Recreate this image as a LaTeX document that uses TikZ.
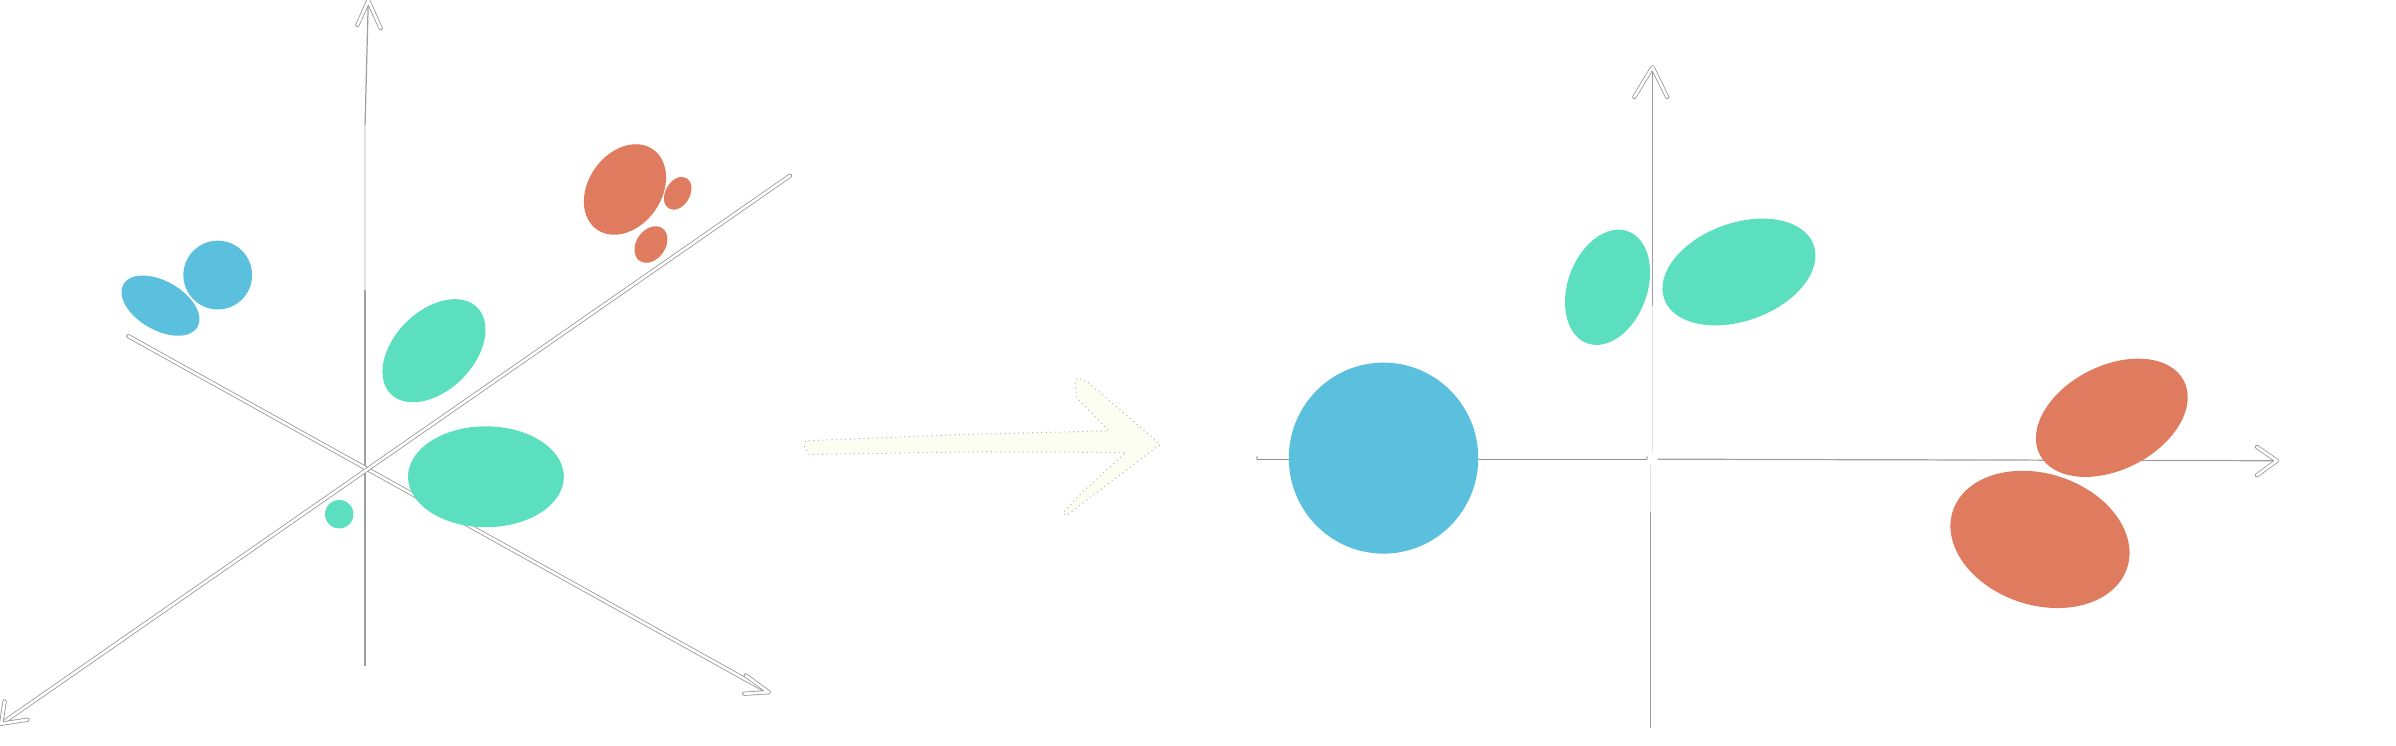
\documentclass[tikz,border=0pt]{standalone}
\usepackage{tikz}
\definecolor{sky}{HTML}{5BC0DE}
\definecolor{mint}{HTML}{5CDFBE}
\definecolor{coral}{HTML}{DF7B5E}
\definecolor{cream}{HTML}{FDFEF2}

\begin{document}
\begin{tikzpicture}[x=0.0153cm,y=-0.0153cm,
		axis/.style={draw=gray!75,line width=0.35pt},
		faint/.style={draw=gray!22,line width=0.35pt},
		hollow/.style={draw=gray!85,line width=0.22pt,double=white,double distance=0.75pt,line cap=round,line join=round},
		sketch/.style={fill=cream,draw=gray!55,line width=0.3pt,densely dotted},
	]
	\useasboundingbox (0,0) rectangle (1568,488);
	% left picture: three axes
	\coordinate (lTip) at (241,0.5);
	\coordinate (lUp) at (238.9,82);
	\coordinate (lMid) at (238.9,190);
	\coordinate (lBot) at (238.9,436);
	\draw[axis] (lTip) -- (lUp);
	\draw[faint] (lUp) -- (lMid);
	\draw[axis] (lMid) -- (lBot);
	\draw[hollow] (233.9,16.4) -- (lTip) -- (249.1,18.5);

	\coordinate (aStart) at (84,220);
	\coordinate (aEnd) at (503,453);
	\draw[hollow] (aStart) -- (aEnd);
	\draw[hollow] (488,442) -- (aEnd) -- (487,454);

	\coordinate (bStart) at (517,115);
	\coordinate (bEnd) at (0.8,473.6);
	\draw[hollow] (bStart) -- (bEnd);
	\draw[hollow] (3,459) -- (bEnd) -- (18,471);

	% right picture: two axes
	\coordinate (hStart) at (823.4,299.5);
	\coordinate (hLeft) at (1077,299.5);
	\coordinate (hRight) at (1085,300.5);
	\coordinate (hEnd) at (1490,301.5);
	\draw[hollow] (hStart) -- (hLeft);
	\draw[axis] (hRight) -- (hEnd);
	\draw[hollow] (1477,292.5) -- (hEnd) -- (1477,311);

	\coordinate (vTip) at (1081.4,44);
	\coordinate (vUp) at (1081.4,200);
	\coordinate (vMid) at (1081.4,296);
	\coordinate (vLow) at (1080,304);
	\coordinate (vDown) at (1080,335);
	\coordinate (vEnd) at (1080,476.5);
	\draw[axis] (vTip) -- (vUp);
	\draw[faint] (vUp) -- (vMid);
	\draw[faint] (vLow) -- (vDown);
	\draw[axis] (vDown) -- (vEnd);
	\draw[hollow] (1069.5,63.5) -- (vTip) -- (1091,63.5);

	% clusters
	\foreach \u/\v/\a/\b/\r/\col in {
		409/124/32/24/55/coral, 443.5/126.5/11.5/8/60/coral, 426/160/13/9.5/55/coral,
		142.5/180/22.5/22.5/0/sky, 105/200/28/16/-30/sky,
		284/229.5/40/26/45/mint, 318/312/51/33/0/mint, 222/336.5/9.3/9.3/0/mint,
		905.4/299.8/62/62.5/0/sky,
		1052/188/39/26/70/mint, 1138/178/52/32/20/mint,
		1382/273.4/53/34/27/coral, 1335/353/60/43/-18/coral}
	{
		\fill[\col,rotate around={\r:(\u,\v)}] (\u,\v) ellipse ({\a} and {\b});
	}

	% hand drawn arrow in the middle
	\draw[sketch] (526.5,292.3) -- (527.1,288.5) -- (621.4,284.6) -- (725.6,281.9)
		-- (704.6,260.2) -- (703.5,250) -- (705.2,247.3) -- (711.2,249.5) -- (759.4,290.8)
		-- (697.9,337.3) -- (695.7,335.6) -- (705.7,324.5) -- (736.7,296.1)
		-- (643.6,295.6) -- (529.4,297.4) -- cycle;
\end{tikzpicture}
\end{document}
